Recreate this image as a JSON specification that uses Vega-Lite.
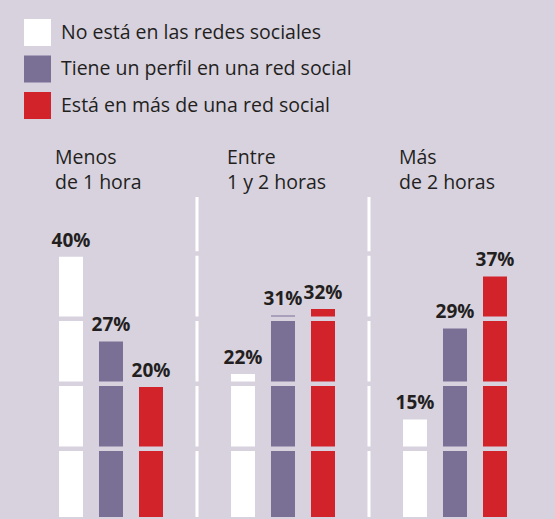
{
  "$schema": "https://vega.github.io/schema/vega-lite/v6.json",
  "width": 555,
  "height": 519,
  "autosize": {"type": "none"},
  "padding": 0,
  "background": "#d8d2df",
  "datasets": {
    "bars": [
      {"group": "Menos de 1 hora", "serie": "No está en las redes sociales", "value": 0.40},
      {"group": "Menos de 1 hora", "serie": "Tiene un perfil en una red social", "value": 0.27},
      {"group": "Menos de 1 hora", "serie": "Está en más de una red social", "value": 0.20},
      {"group": "Entre 1 y 2 horas", "serie": "No está en las redes sociales", "value": 0.22},
      {"group": "Entre 1 y 2 horas", "serie": "Tiene un perfil en una red social", "value": 0.31},
      {"group": "Entre 1 y 2 horas", "serie": "Está en más de una red social", "value": 0.32},
      {"group": "Más de 2 horas", "serie": "No está en las redes sociales", "value": 0.15},
      {"group": "Más de 2 horas", "serie": "Tiene un perfil en una red social", "value": 0.29},
      {"group": "Más de 2 horas", "serie": "Está en más de una red social", "value": 0.37}
    ],
    "groups": [
      {"group": "Menos de 1 hora", "line1": "Menos", "line2": "de 1 hora"},
      {"group": "Entre 1 y 2 horas", "line1": "Entre", "line2": "1 y 2 horas"},
      {"group": "Más de 2 horas", "line1": "Más", "line2": "de 2 horas"}
    ],
    "separators": [
      {"group": "Entre 1 y 2 horas"},
      {"group": "Más de 2 horas"}
    ],
    "grid": [
      {"level": 0.105}, {"level": 0.205}, {"level": 0.305}, {"level": 0.405}
    ]
  },
  "layer": [
    {
      "data": {"name": "bars"},
      "mark": {"type": "bar"},
      "encoding": {
        "x": {"field": "group", "type": "nominal", "axis": null,
              "sort": ["Menos de 1 hora", "Entre 1 y 2 horas", "Más de 2 horas"],
              "scale": {"range": [25, 541], "paddingInner": 0, "paddingOuter": 0}},
        "xOffset": {"field": "serie", "type": "nominal",
              "sort": ["No está en las redes sociales", "Tiene un perfil en una red social", "Está en más de una red social"],
              "scale": {"paddingInner": 0.4, "paddingOuter": 0.85}},
        "y": {"field": "value", "type": "quantitative", "axis": null,
              "scale": {"domain": [0, 0.795], "range": [517, 0], "nice": false, "zero": true}},
        "color": {"field": "serie", "type": "nominal",
              "sort": ["No está en las redes sociales", "Tiene un perfil en una red social", "Está en más de una red social"],
              "scale": {"domain": ["No está en las redes sociales", "Tiene un perfil en una red social", "Está en más de una red social"],
                        "range": ["#ffffff", "#7a7096", "#d2232b"]},
              "legend": {"title": null, "orient": "none", "legendX": 24, "legendY": 19,
                         "symbolType": "square", "symbolSize": 729, "symbolStrokeWidth": 0,
                         "labelFont": "Open Sans", "labelFontSize": 19.5, "labelColor": "#231f20",
                         "labelOffset": 10, "rowPadding": 9.5, "padding": 0, "labelLimit": 400}}
      }
    },
    {
      "data": {"name": "separators"},
      "mark": {"type": "rule", "color": "#ffffff", "strokeWidth": 3},
      "encoding": {
        "x": {"field": "group", "type": "nominal", "axis": null, "bandPosition": 0,
              "sort": ["Menos de 1 hora", "Entre 1 y 2 horas", "Más de 2 horas"]},
        "y": {"datum": 0.492, "type": "quantitative", "axis": null},
        "y2": {"datum": 0}
      }
    },
    {
      "data": {"name": "grid"},
      "mark": {"type": "rule", "color": "#d8d2df", "strokeWidth": 4.5},
      "encoding": {
        "y": {"field": "level", "type": "quantitative", "axis": null}
      }
    },
    {
      "data": {"name": "bars"},
      "mark": {"type": "text", "font": "Open Sans", "fontWeight": "bold", "fontSize": 19,
               "color": "#231f20", "baseline": "alphabetic", "align": "center", "dy": -10},
      "encoding": {
        "x": {"field": "group", "type": "nominal", "axis": null,
              "sort": ["Menos de 1 hora", "Entre 1 y 2 horas", "Más de 2 horas"]},
        "xOffset": {"field": "serie", "type": "nominal",
              "sort": ["No está en las redes sociales", "Tiene un perfil en una red social", "Está en más de una red social"]},
        "y": {"field": "value", "type": "quantitative", "axis": null},
        "text": {"field": "value", "type": "quantitative", "format": ".0%"}
      }
    },
    {
      "data": {"name": "groups"},
      "mark": {"type": "text", "font": "Open Sans", "fontSize": 19.5, "color": "#231f20",
               "align": "left", "baseline": "alphabetic", "dx": 30},
      "encoding": {
        "x": {"field": "group", "type": "nominal", "axis": null, "bandPosition": 0,
              "sort": ["Menos de 1 hora", "Entre 1 y 2 horas", "Más de 2 horas"]},
        "y": {"datum": 0.543, "type": "quantitative", "axis": null},
        "text": {"field": "line1", "type": "nominal"}
      }
    },
    {
      "data": {"name": "groups"},
      "mark": {"type": "text", "font": "Open Sans", "fontSize": 19.5, "color": "#231f20",
               "align": "left", "baseline": "alphabetic", "dx": 30},
      "encoding": {
        "x": {"field": "group", "type": "nominal", "axis": null, "bandPosition": 0,
              "sort": ["Menos de 1 hora", "Entre 1 y 2 horas", "Más de 2 horas"]},
        "y": {"datum": 0.5045, "type": "quantitative", "axis": null},
        "text": {"field": "line2", "type": "nominal"}
      }
    }
  ],
  "config": {"view": {"stroke": null}}
}
